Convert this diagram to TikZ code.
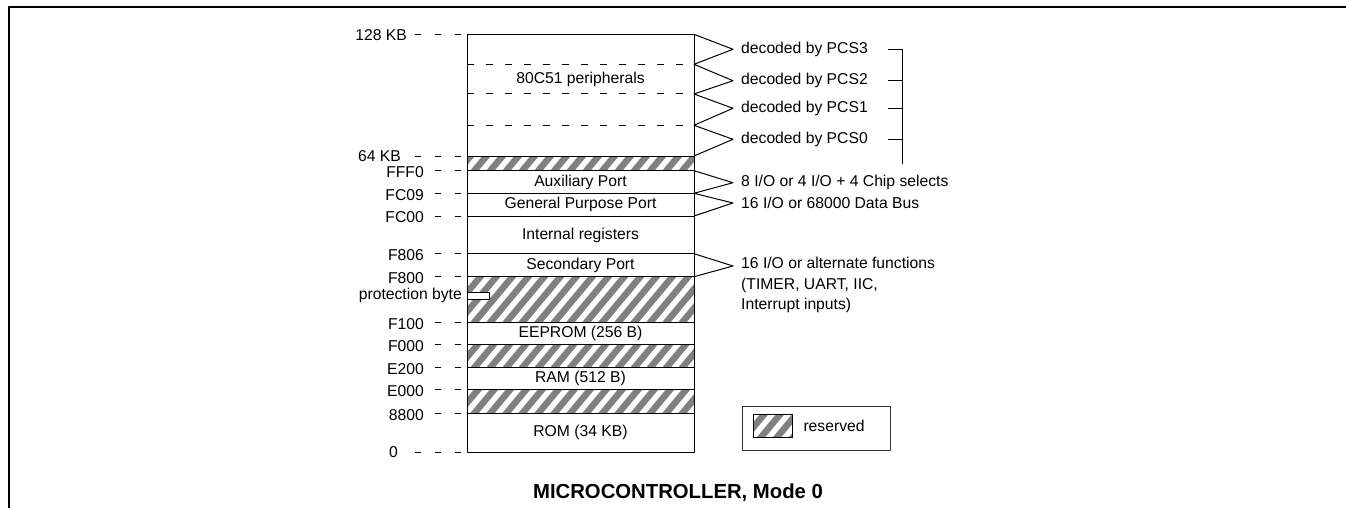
\documentclass[tikz,border=0pt]{standalone}
\usepackage{fontspec}
\setmainfont{Liberation Sans}
\definecolor{hatchgray}{RGB}{128,128,128}

% diagonal stripes in a band: x1 y1 x2 y2
\newcommand{\hatchband}[4]{%
  \begin{scope}
    \clip (#1,#2) rectangle (#3,#4);
    \foreach \k in {-60,-44,...,240}
      \draw[hatch] ({#1+(\k)},#4+4) -- ++(50,-60);
  \end{scope}
  \draw[memline] (#1,#2) rectangle (#3,#4);}

\begin{document}
\begin{tikzpicture}[x=1pt,y=-1pt,line join=round,font=\fontsize{15.7}{18.8}\selectfont]
  \tikzset{
    memline/.style={line width=1},
    lead/.style={line width=0.8,dash pattern=on 6 off 14},
    hatch/.style={line width=6.5,draw=hatchgray},
    lbl/.style={anchor=east,inner sep=0},
    side/.style={anchor=west,inner xsep=8,inner ysep=0},
    cell/.style={inner sep=0},
  }
  \def\xl{467} \def\xr{694} \def\xm{580.5}
  \useasboundingbox (0,0) rectangle (1346,508);

  % frame
  \draw[line width=2] (8.5,508) -- (8.5,7.5) -- (1346,7.5);

  % memory column
  \hatchband{\xl}{156}{\xr}{170.7}
  \hatchband{\xl}{276.7}{\xr}{322.3}
  \hatchband{\xl}{344.3}{\xr}{367.7}
  \hatchband{\xl}{389.7}{\xr}{413.3}
  \draw[memline] (\xl,34.3) rectangle (\xr,452);
  \foreach \y in {193.3,216,253.7}
    \draw[memline] (\xl,\y) -- (\xr,\y);
  \foreach \y in {64.3,94,125.3}
    \draw[memline,dash pattern=on 7 off 12] (\xl,\y) -- (\xr,\y);

  % protection byte
  \draw[memline,fill=white] (\xl,292.7) rectangle (489.3,299);
  \node[lbl] (prot) at (462,295.5) {protection byte};

  % cell texts
  \node[cell] (periph) at (\xm,79.5) {80C51 peripherals};
  \node[cell] (aux) at (\xm,182) {Auxiliary Port};
  \node[cell] (gpp) at (\xm,204.7) {General Purpose Port};
  \node[cell] (intreg) at (\xm,235) {Internal registers};
  \node[cell] (secp) at (\xm,265.2) {Secondary Port};
  \node[cell] (eeprom) at (\xm,333.3) {EEPROM (256 B)};
  \node[cell] (ram) at (\xm,378.7) {RAM (512 B)};
  \node[cell] (rom) at (\xm,432.7) {ROM (34 KB)};

  % addresses
  \node[lbl] (a128) at (407,34.8) {128 KB};
  \node[lbl] (a64) at (401,156.5) {64 KB};
  \node[lbl] (a0) at (398,452.5) {0};
  \foreach \n/\y in {128/34.3,64/156,0/452}
  {
    \coordinate (t\n) at (461,\y);
    \draw[lead] (t\n) -- ++(-46,0);
  }
  \foreach \y/\t in {170.7/FFF0,193.3/FC09,216/FC00,253.7/F806,276.7/F800,
                     322.3/F100,344.3/F000,367.7/E200,389.7/E000,413.3/8800}
  {
    \node[lbl] (a\t) at (424,\y+1.5) {\t};
    \coordinate (t\t) at (461,\y);
    \draw[lead] (t\t) -- (a\t.east |- t\t);
  }

  % right edge points
  \coordinate (r1) at (\xr,34.3);
  \coordinate (r2) at (\xr,64.3);
  \coordinate (r3) at (\xr,94);
  \coordinate (r4) at (\xr,125.3);
  \coordinate (r5) at (\xr,156);
  \coordinate (r6) at (\xr,170.7);
  \coordinate (r7) at (\xr,193.3);
  \coordinate (r8) at (\xr,216);
  \coordinate (r9) at (\xr,253.7);
  \coordinate (r10) at (\xr,276.7);

  % chip selects
  \node[side] (pcs3) at (733,49.3) {decoded by PCS3};
  \node[side] (pcs2) at (733,80.7) {decoded by PCS2};
  \node[side] (pcs1) at (733,108.3) {decoded by PCS1};
  \node[side] (pcs0) at (733,139.3) {decoded by PCS0};
  \draw[memline] (r1) -- (pcs3.west) -- (r2) -- (pcs2.west) -- (r3)
    -- (pcs1.west) -- (r4) -- (pcs0.west) -- (r5);
  \coordinate (brk) at (902.7,164);
  \foreach \p in {pcs3,pcs2,pcs1,pcs0}
    \draw[memline] ([xshift=12]\p.east) -- (brk |- \p.east);
  \draw[memline] (brk |- pcs3.east) -- (brk);

  % port functions
  \node[side] (auxf) at (733,182.7) {8 I/O or 4 I/O + 4 Chip selects};
  \node[side] (gppf) at (733,203) {16 I/O or 68000 Data Bus};
  \draw[memline] (r6) -- (auxf.west) -- (r7) -- (gppf.west) -- (r8);
  \node[side,anchor=north west,align=left,font=\fontsize{15.7}{20.7}\selectfont]
    (secf) at (733,256.8) {16 I/O or alternate functions\\(TIMER, UART, IIC,\\Interrupt inputs)};
  \draw[memline] (r9) -- (secf.west |- 0,266) -- (r10);

  % legend
  \draw[line width=1,draw=black!80] (742.7,406.7) rectangle (890.7,450);
  \hatchband{753.3}{414.3}{792.7}{437.7}
  \node[anchor=west,inner sep=0] (resv) at (803.3,426) {reserved};

  % title
  \node[font=\bfseries\fontsize{20.3}{24}\selectfont] (title) at (678,493)
    {MICROCONTROLLER, Mode 0};
\end{tikzpicture}
\end{document}
